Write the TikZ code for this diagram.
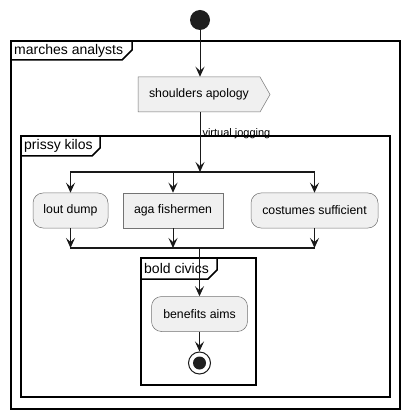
\documentclass[tikz,border=0pt]{standalone}
\usepackage{fontspec}
\setmainfont{Liberation Sans}
\usetikzlibrary{arrows.meta}
\begin{document}
\begin{tikzpicture}[x=1pt,y=-1pt,
  act/.style={draw=black!55, fill=black!6, line width=0.5pt, minimum height=35pt, inner sep=0pt, font=\fontsize{12.3}{14}\selectfont},
  ract/.style={act, rounded corners=10pt},
  frm/.style={draw=black, line width=1.5pt},
  ftitle/.style={font=\fontsize{14}{16}\selectfont, anchor=west, inner sep=0pt},
  flow/.style={draw=black!90, line width=1pt, -{Stealth[length=10pt,width=9pt,inset=4pt]}},
  bar/.style={draw=black!90, line width=1.5pt}]
\useasboundingbox (0,0) rectangle (410,419);
% frames
\draw[frm] (11,41) rectangle (400,409);
\draw[frm] (11,60) -- (122,60) -- (132,50) -- (132,41);
\node[ftitle] (t1) at (14,51) {marches analysts};
\draw[frm] (21,136) rectangle (390,397);
\draw[frm] (21,156) -- (92,156) -- (100,148) -- (100,136);
\node[ftitle] (t2) at (24,146) {prissy kilos};
\draw[frm] (141,258) rectangle (256,385);
\draw[frm] (141,279) -- (208,279) -- (217,270) -- (217,258);
\node[ftitle] (t3) at (144,268) {bold civics};
% start
\node[circle, fill=black!88, minimum size=20pt, inner sep=0pt] (start) at (200,20) {};
% shoulders apology
\filldraw[draw=black!55, fill=black!6, line width=0.5pt] (138,77) -- (260,77) -- (270,94.5) -- (260,112) -- (138,112) -- cycle;
\node[act, draw=none, fill=none, minimum width=122pt] (sa) at (199,94.5) {shoulders apology};
% fork / join
\coordinate (fl) at (70,172);
\coordinate (fr) at (315,172);
\coordinate (fc) at (200,172);
\coordinate (jl) at (70,248);
\coordinate (jr) at (315,248);
\coordinate (jc) at (199.5,248);
\draw[bar] (fl) -- (fr);
\draw[bar] (jl) -- (jr);
% nodes
\node[ract, minimum width=75pt] (ld) at (70.5,210.5) {lout dump};
\node[act, minimum width=100pt] (af) at (173,210.5) {aga fishermen};
\node[ract, minimum width=127pt] (cs) at (314.5,210.5) {costumes sufficient};
\node[ract, minimum width=96pt] (ba) at (199.5,314) {benefits aims};
\node[circle, draw=black!90, fill=white, line width=1pt, minimum size=22pt, inner sep=0pt] (end) at (199.5,363) {};
\fill[black!88] (end) circle (6.5);
% connectors
\draw[flow] (start) -- (start |- sa.north);
\draw[flow] (start |- sa.south) -- (fc) node[pos=0.35, anchor=west, inner sep=0pt, xshift=2pt, font=\fontsize{11}{13}\selectfont] (lbl) {virtual jogging};
\draw[flow] (ld.north |- fl) -- (ld.north);
\draw[flow] (af.north |- fl) -- (af.north);
\draw[flow] (cs.north |- fl) -- (cs.north);
\draw[flow] (ld.south) -- (ld.south |- jl);
\draw[flow] (af.south) -- (af.south |- jl);
\draw[flow] (cs.south) -- (cs.south |- jl);
\draw[flow] (jc) -- (ba.north);
\draw[flow] (ba.south) -- (end.north);
\end{tikzpicture}
\end{document}
